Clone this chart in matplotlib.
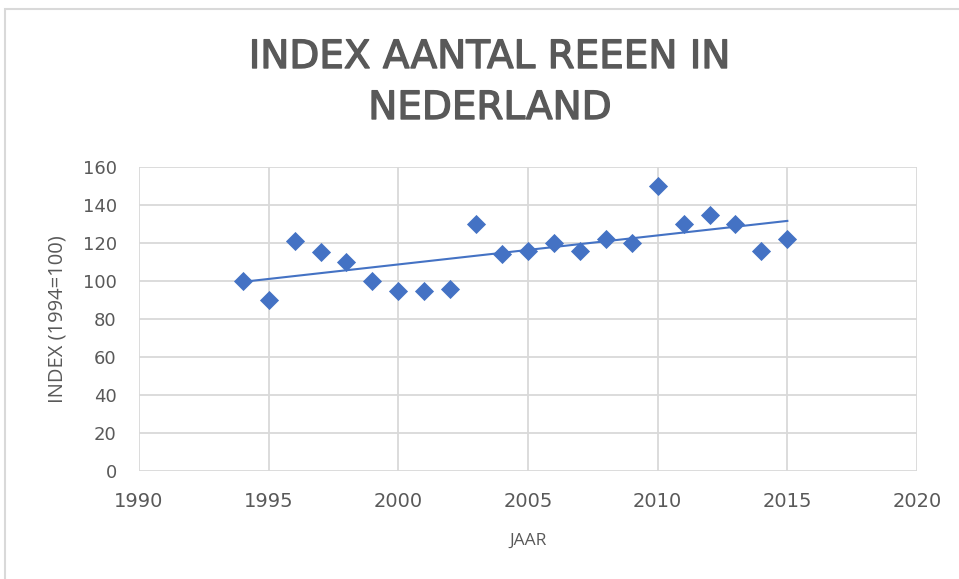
import numpy as np
import matplotlib
matplotlib.use("Agg")
import matplotlib.pyplot as plt
from matplotlib.patches import Rectangle
import matplotlib.patheffects as pe

years = [1994, 1995, 1996, 1997, 1998, 1999, 2000, 2001, 2002, 2003, 2004,
         2005, 2006, 2007, 2008, 2009, 2010, 2011, 2012, 2013, 2014, 2015]
index_values = [100, 90, 121, 115, 110, 100, 95, 95, 96, 130, 114,
                116, 120, 116, 122, 120, 150, 130, 135, 130, 116, 122]
x_ticks = [1990, 1995, 2000, 2005, 2010, 2015, 2020]
y_ticks = [0, 20, 40, 60, 80, 100, 120, 140, 160]
title_lines = ["INDEX AANTAL REEEN IN", "NEDERLAND"]
xlabel = "JAAR"
ylabel = "INDEX (1994=100)"

blue = "#4472C4"
gray = "#595959"
grid = "#D9D9D9"

W, H = 959, 579
fig = plt.figure(figsize=(W / 100, H / 100), dpi=100)
ax = fig.add_axes([139 / W, 1 - 471 / H, (917 - 139) / W, (471 - 167) / H])

x = np.array(years, dtype=float)
y = np.array(index_values, dtype=float)
ax.scatter(x, y, marker="D", s=95, color=blue, zorder=3, linewidths=0)
coef = np.polyfit(x, y, 1)
xt = np.array([x.min(), x.max()])
ax.plot(xt, np.polyval(coef, xt), color=blue, lw=1.5, zorder=2)

ax.set_xlim(1990, 2020)
ax.set_ylim(0, 160)
ax.set_xticks(x_ticks)
ax.set_yticks(y_ticks)
ax.set_xticklabels([str(t) for t in x_ticks])
ax.grid(True, color=grid, lw=1.3)
ax.set_axisbelow(True)
for s in ax.spines.values():
    s.set_visible(False)
ax.tick_params(length=0, colors=gray)
ax.tick_params(axis="y", labelsize=13, pad=16)
ax.tick_params(axis="x", labelsize=14, pad=15)
for lab in ax.get_xticklabels() + ax.get_yticklabels():
    lab.set_fontfamily("DejaVu Sans")

fig.text(528 / W, 1 - 541 / H, xlabel, ha="center", va="center", color=gray,
         fontsize=12.5, family="Open Sans")
fig.text(57 / W, 1 - 319 / H, ylabel, ha="center", va="center", color=gray,
         fontsize=14.5, family="Open Sans", rotation=90)

for i, line in enumerate(title_lines):
    fig.text(490 / W, 1 - (57 + 51 * i) / H, line, ha="center", va="center",
             fontsize=28, fontweight="normal", color=gray,
             family="DejaVu Sans",
             path_effects=[pe.withStroke(linewidth=1.0, foreground=gray)])

fig.patches.append(Rectangle((5 / W, -0.1), 1.1, 1 - 9 / H + 0.1,
                             transform=fig.transFigure, fill=False,
                             edgecolor="#D9D9D9", lw=1.5))

fig.savefig("out.png", dpi=100)
